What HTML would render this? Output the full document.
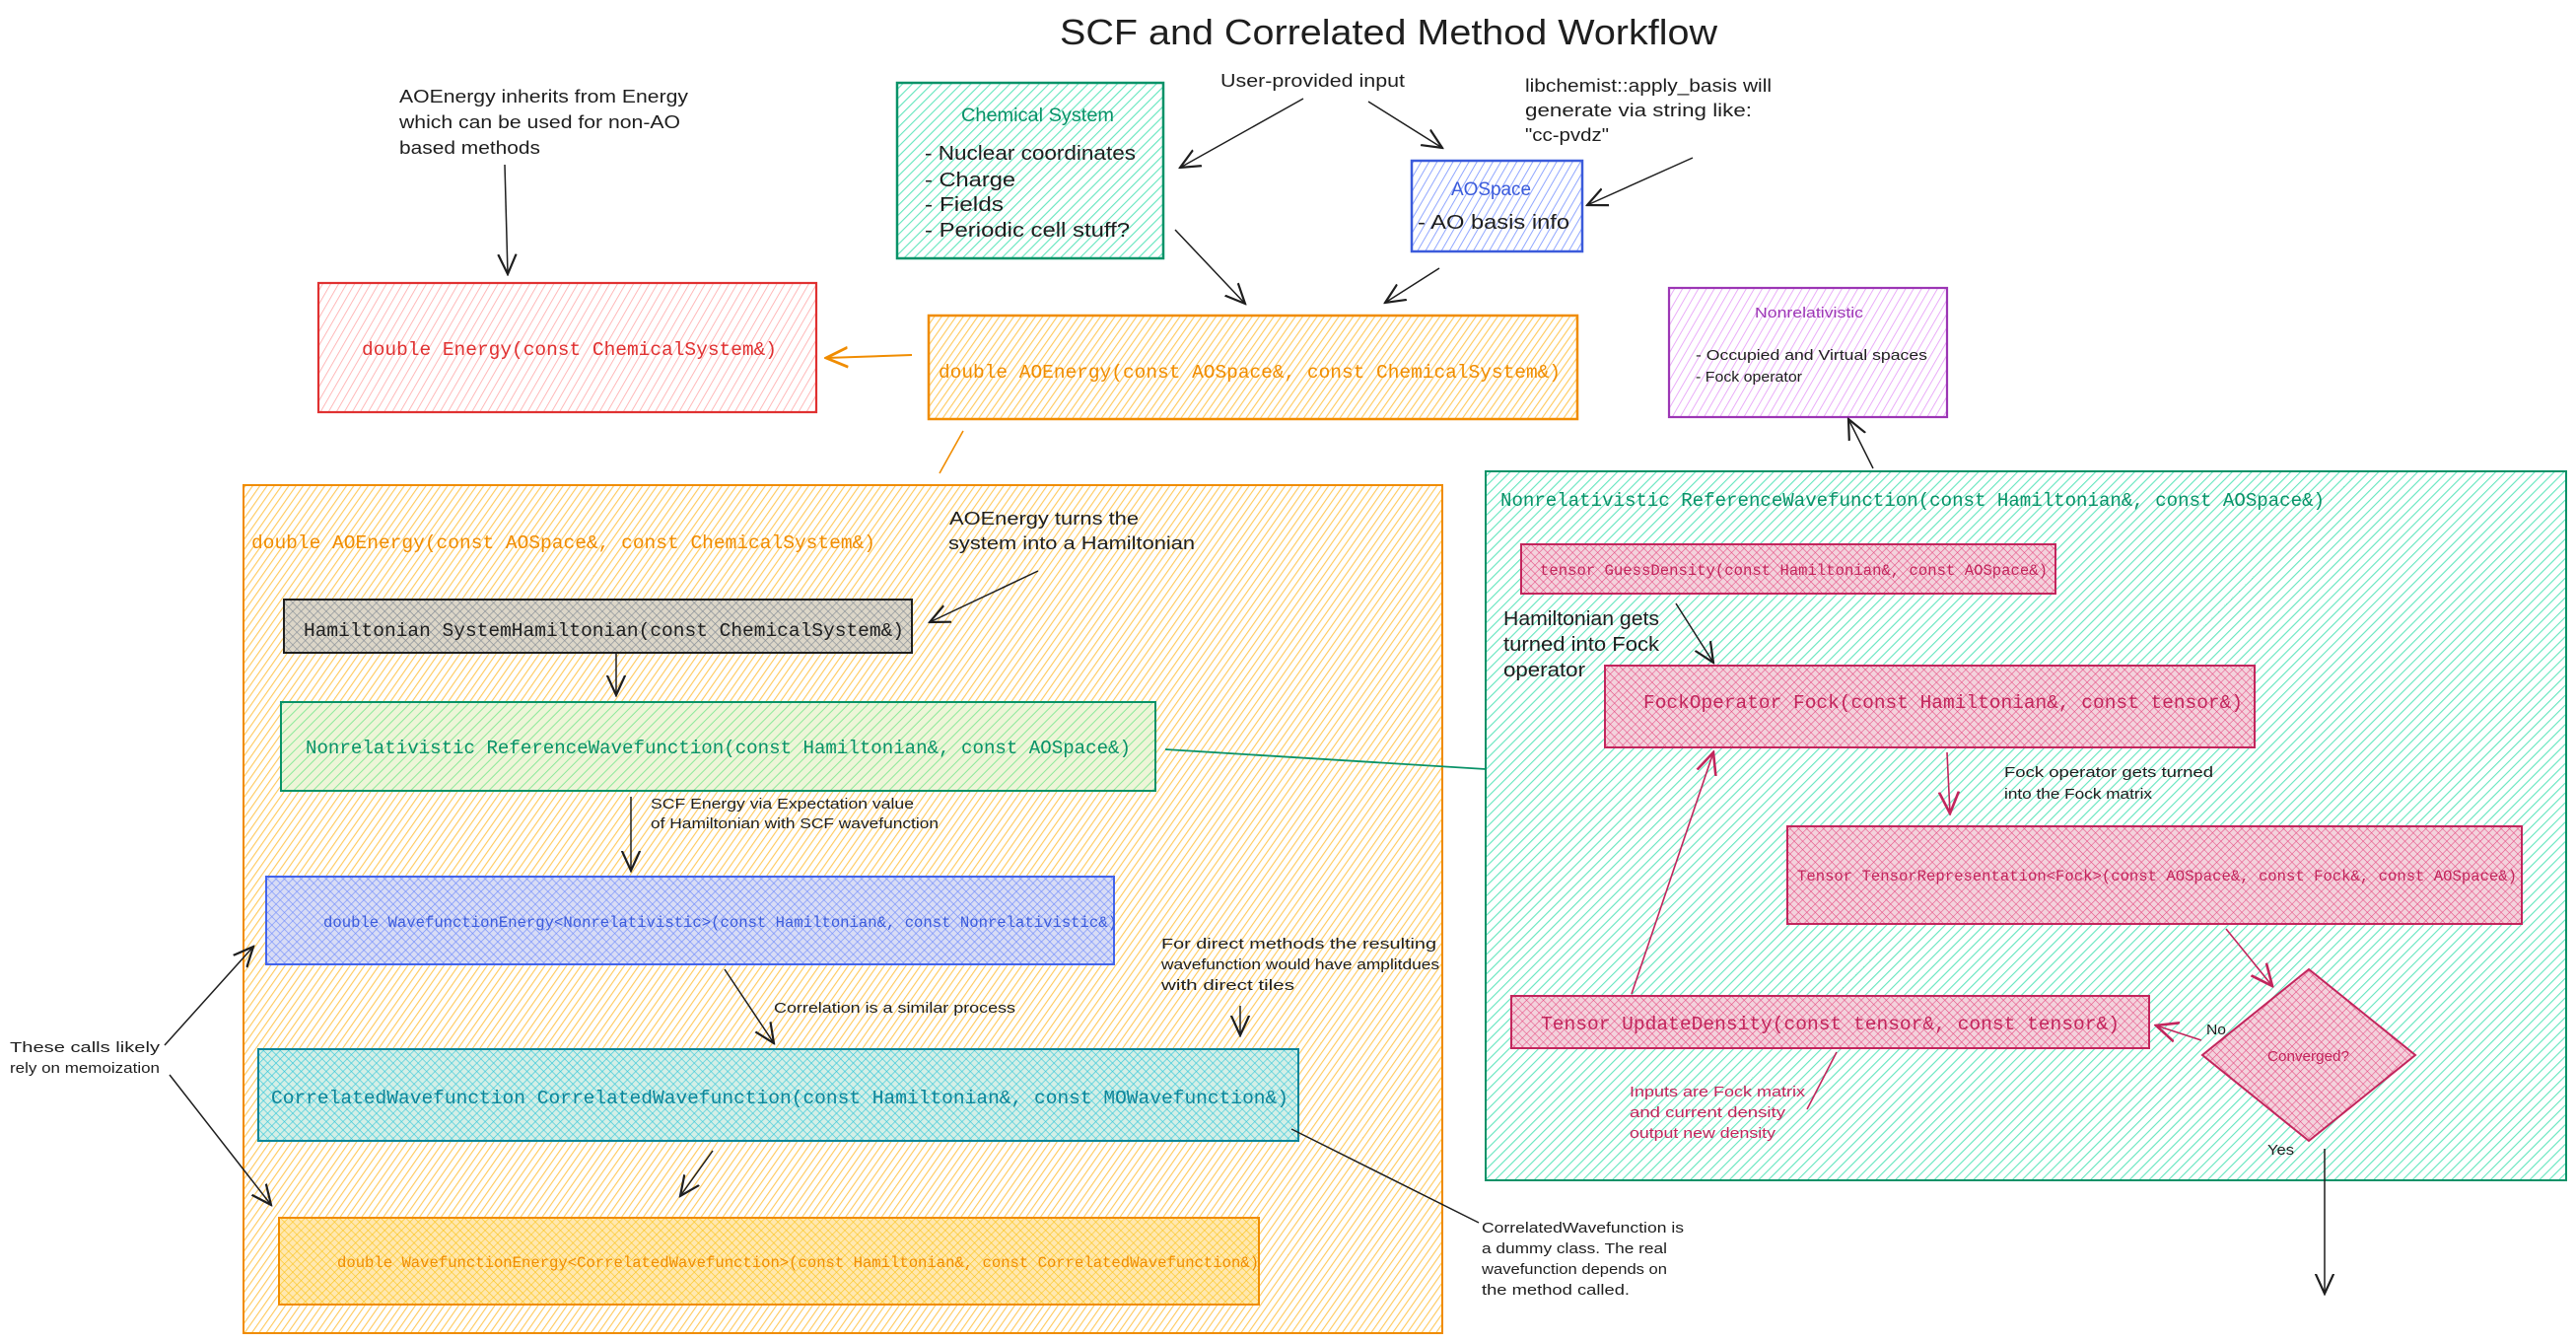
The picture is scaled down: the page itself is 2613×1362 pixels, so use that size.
<!DOCTYPE html>
<html><head><meta charset="utf-8"><style>
html,body{margin:0;padding:0;background:#fff;}
svg{display:block;}
.h{font-family:"Liberation Sans",sans-serif;fill:#1e1e1e;}
.m{font-family:"Liberation Mono",monospace;}
</style></head><body>
<svg width="2613" height="1362" viewBox="0 0 2613 1362" xmlns="http://www.w3.org/2000/svg">
<defs>
<pattern id="pg" width="7" height="7" patternUnits="userSpaceOnUse" patternTransform="rotate(45)"><rect width="7" height="7" fill="#fff"/><line x1="0" y1="0" x2="0" y2="7" stroke="#63e6be" stroke-width="2.2"/></pattern>
<pattern id="pr" width="7" height="7" patternUnits="userSpaceOnUse" patternTransform="rotate(30)"><rect width="7" height="7" fill="#fff"/><line x1="0" y1="0" x2="0" y2="7" stroke="#ffa8a8" stroke-width="1.6"/></pattern>
<pattern id="po" width="6" height="6" patternUnits="userSpaceOnUse" patternTransform="rotate(35)"><rect width="6" height="6" fill="#fff"/><line x1="0" y1="0" x2="0" y2="6" stroke="#ffc95c" stroke-width="2.2"/></pattern>
<pattern id="pb" width="7" height="7" patternUnits="userSpaceOnUse" patternTransform="rotate(30)"><rect width="7" height="7" fill="#fff"/><line x1="0" y1="0" x2="0" y2="7" stroke="#91a7ff" stroke-width="2"/></pattern>
<pattern id="pp" width="7" height="7" patternUnits="userSpaceOnUse" patternTransform="rotate(30)"><rect width="7" height="7" fill="#fff"/><line x1="0" y1="0" x2="0" y2="7" stroke="#e599f7" stroke-width="1.6"/></pattern>
<pattern id="xgray" width="6" height="6" patternUnits="userSpaceOnUse" patternTransform="rotate(45)"><rect width="6" height="6" fill="#dcd6c8"/><line x1="0" y1="0" x2="0" y2="6" stroke="#868e96" stroke-width="1.3"/><line x1="0" y1="0" x2="6" y2="0" stroke="#868e96" stroke-width="1.3"/></pattern>
<pattern id="xgreen" width="7" height="7" patternUnits="userSpaceOnUse" patternTransform="rotate(45)"><rect width="7" height="7" fill="#eef5d8"/><line x1="0" y1="0" x2="0" y2="7" stroke="#8ce99a" stroke-width="2"/></pattern>
<pattern id="xblue" width="6" height="6" patternUnits="userSpaceOnUse" patternTransform="rotate(45)"><rect width="6" height="6" fill="#d8dcf5"/><line x1="0" y1="0" x2="0" y2="6" stroke="#748ffc" stroke-width="1.3"/><line x1="0" y1="0" x2="6" y2="0" stroke="#748ffc" stroke-width="1.3"/></pattern>
<pattern id="xteal" width="6" height="6" patternUnits="userSpaceOnUse" patternTransform="rotate(45)"><rect width="6" height="6" fill="#d4efe6"/><line x1="0" y1="0" x2="0" y2="6" stroke="#3bc9db" stroke-width="1.3"/><line x1="0" y1="0" x2="6" y2="0" stroke="#3bc9db" stroke-width="1.3"/></pattern>
<pattern id="xorange" width="6" height="6" patternUnits="userSpaceOnUse" patternTransform="rotate(45)"><rect width="6" height="6" fill="#ffe8b0"/><line x1="0" y1="0" x2="0" y2="6" stroke="#fcc419" stroke-width="1.2"/><line x1="0" y1="0" x2="6" y2="0" stroke="#fcc419" stroke-width="1.2"/></pattern>
<pattern id="xpink" width="6" height="6" patternUnits="userSpaceOnUse" patternTransform="rotate(45)"><rect width="6" height="6" fill="#f3d2dc"/><line x1="0" y1="0" x2="0" y2="6" stroke="#e64980" stroke-width="1.1"/><line x1="0" y1="0" x2="6" y2="0" stroke="#e64980" stroke-width="1.1"/></pattern>
<marker id="ak" viewBox="0 0 12 12" refX="11" refY="6" markerWidth="22" markerHeight="22" markerUnits="userSpaceOnUse" orient="auto"><path d="M0,1 L11,6 L0,11" fill="none" stroke="#1e1e1e" stroke-width="1.2"/></marker>
<marker id="ao" viewBox="0 0 12 12" refX="11" refY="6" markerWidth="24" markerHeight="24" markerUnits="userSpaceOnUse" orient="auto"><path d="M0,1 L11,6 L0,11" fill="none" stroke="#f08c00" stroke-width="1.4"/></marker>
<marker id="ap" viewBox="0 0 12 12" refX="11" refY="6" markerWidth="24" markerHeight="24" markerUnits="userSpaceOnUse" orient="auto"><path d="M0,1 L11,6 L0,11" fill="none" stroke="#c2255c" stroke-width="1.3"/></marker>
</defs>

<text class="h" x="1075" y="45" font-size="36" textLength="667" lengthAdjust="spacingAndGlyphs">SCF and Correlated Method Workflow</text>

<rect x="910" y="84" width="270" height="178" fill="url(#pg)" stroke="#099268" stroke-width="2.5"/>
<text class="h" x="975" y="123" font-size="19" style="fill:#099268" textLength="155" lengthAdjust="spacingAndGlyphs">Chemical System</text>
<text class="h" x="938" y="162" font-size="20" textLength="214" lengthAdjust="spacingAndGlyphs">- Nuclear coordinates</text>
<text class="h" x="938" y="189" font-size="20" textLength="92" lengthAdjust="spacingAndGlyphs">- Charge</text>
<text class="h" x="938" y="214" font-size="20" textLength="80" lengthAdjust="spacingAndGlyphs">- Fields</text>
<text class="h" x="938" y="240" font-size="20" textLength="208" lengthAdjust="spacingAndGlyphs">- Periodic cell stuff?</text>

<rect x="1432" y="163" width="173" height="92" fill="url(#pb)" stroke="#3b5bdb" stroke-width="2.5"/>
<text class="h" x="1472" y="198" font-size="19" style="fill:#3b5bdb" textLength="81" lengthAdjust="spacingAndGlyphs">AOSpace</text>
<text class="h" x="1438" y="232" font-size="20" textLength="154" lengthAdjust="spacingAndGlyphs">- AO basis info</text>

<rect x="323" y="287" width="505" height="131" fill="url(#pr)" stroke="#e03131" stroke-width="2.2"/>
<text class="m" x="367" y="360" font-size="19.5" fill="#e03131" textLength="421" lengthAdjust="spacingAndGlyphs">double Energy(const ChemicalSystem&amp;)</text>

<rect x="942" y="320" width="658" height="105" fill="url(#po)" stroke="#f08c00" stroke-width="2.5"/>
<text class="m" x="952" y="383" font-size="19.5" fill="#f08c00" textLength="631" lengthAdjust="spacingAndGlyphs">double AOEnergy(const AOSpace&amp;, const ChemicalSystem&amp;)</text>

<rect x="1693" y="292" width="282" height="131" fill="url(#pp)" stroke="#9c36b5" stroke-width="2.2"/>
<text class="h" x="1780" y="322" font-size="15" style="fill:#9c36b5" textLength="110" lengthAdjust="spacingAndGlyphs">Nonrelativistic</text>
<text class="h" x="1720" y="365" font-size="15" textLength="235" lengthAdjust="spacingAndGlyphs">- Occupied and Virtual spaces</text>
<text class="h" x="1720" y="387" font-size="15" textLength="108" lengthAdjust="spacingAndGlyphs">- Fock operator</text>

<text class="h" x="405" y="104" font-size="18" textLength="293" lengthAdjust="spacingAndGlyphs">AOEnergy inherits from Energy</text>
<text class="h" x="405" y="130" font-size="18" textLength="285" lengthAdjust="spacingAndGlyphs">which can be used for non-AO</text>
<text class="h" x="405" y="156" font-size="18" textLength="143" lengthAdjust="spacingAndGlyphs">based methods</text>
<text class="h" x="1238" y="88" font-size="18" textLength="187" lengthAdjust="spacingAndGlyphs">User-provided input</text>
<text class="h" x="1547" y="93" font-size="18" textLength="250" lengthAdjust="spacingAndGlyphs">libchemist::apply_basis will</text>
<text class="h" x="1547" y="118" font-size="18" textLength="230" lengthAdjust="spacingAndGlyphs">generate via string like:</text>
<text class="h" x="1547" y="143" font-size="18" textLength="85" lengthAdjust="spacingAndGlyphs">"cc-pvdz"</text>

<g fill="none" stroke="#1e1e1e" stroke-width="1.5">
<line x1="512" y1="167" x2="515" y2="278" marker-end="url(#ak)"/>
<line x1="1322" y1="100" x2="1197" y2="170" marker-end="url(#ak)"/>
<line x1="1388" y1="103" x2="1463" y2="150" marker-end="url(#ak)"/>
<line x1="1717" y1="160" x2="1610" y2="208" marker-end="url(#ak)"/>
<line x1="1192" y1="233" x2="1263" y2="308" marker-end="url(#ak)"/>
<line x1="1460" y1="272" x2="1405" y2="307" marker-end="url(#ak)"/>
<line x1="1900" y1="475" x2="1875" y2="425" marker-end="url(#ak)"/>
</g>
<line x1="925" y1="360" x2="838" y2="363" stroke="#f08c00" stroke-width="2" marker-end="url(#ao)"/>
<line x1="977" y1="437" x2="953" y2="480" stroke="#f08c00" stroke-width="1.6"/>

<rect x="247" y="492" width="1216" height="860" fill="url(#po)" stroke="#f08c00" stroke-width="2"/>
<text class="m" x="255" y="556" font-size="19.5" fill="#f08c00" textLength="633" lengthAdjust="spacingAndGlyphs">double AOEnergy(const AOSpace&amp;, const ChemicalSystem&amp;)</text>

<rect x="288" y="608" width="637" height="54" fill="url(#xgray)" stroke="#1e1e1e" stroke-width="2"/>
<text class="m" x="308" y="645" font-size="19.5" fill="#1e1e1e" textLength="609" lengthAdjust="spacingAndGlyphs">Hamiltonian SystemHamiltonian(const ChemicalSystem&amp;)</text>

<rect x="285" y="712" width="887" height="90" fill="url(#xgreen)" stroke="#099268" stroke-width="2"/>
<text class="m" x="310" y="764" font-size="19" fill="#099268" textLength="837" lengthAdjust="spacingAndGlyphs">Nonrelativistic ReferenceWavefunction(const Hamiltonian&amp;, const AOSpace&amp;)</text>

<rect x="270" y="889" width="860" height="89" fill="url(#xblue)" stroke="#4263eb" stroke-width="2"/>
<text class="m" x="328" y="940" font-size="15.6" fill="#3b5bdb" textLength="805" lengthAdjust="spacingAndGlyphs">double WavefunctionEnergy&lt;Nonrelativistic&gt;(const Hamiltonian&amp;, const Nonrelativistic&amp;)</text>

<rect x="262" y="1064" width="1055" height="93" fill="url(#xteal)" stroke="#0c8599" stroke-width="2"/>
<text class="m" x="275" y="1119" font-size="19.5" fill="#0c8599" textLength="1032" lengthAdjust="spacingAndGlyphs">CorrelatedWavefunction CorrelatedWavefunction(const Hamiltonian&amp;, const MOWavefunction&amp;)</text>

<rect x="283" y="1235" width="994" height="88" fill="url(#xorange)" stroke="#f08c00" stroke-width="2"/>
<text class="m" x="342" y="1285" font-size="15.6" fill="#f08c00" textLength="935" lengthAdjust="spacingAndGlyphs">double WavefunctionEnergy&lt;CorrelatedWavefunction&gt;(const Hamiltonian&amp;, const CorrelatedWavefunction&amp;)</text>

<text class="h" x="963" y="532" font-size="18" textLength="192" lengthAdjust="spacingAndGlyphs">AOEnergy turns the</text>
<text class="h" x="962" y="557" font-size="18" textLength="250" lengthAdjust="spacingAndGlyphs">system into a Hamiltonian</text>
<text class="h" x="660" y="820" font-size="15" textLength="267" lengthAdjust="spacingAndGlyphs">SCF Energy via Expectation value</text>
<text class="h" x="660" y="840" font-size="15" textLength="292" lengthAdjust="spacingAndGlyphs">of Hamiltonian with SCF wavefunction</text>
<text class="h" x="785" y="1027" font-size="15" textLength="245" lengthAdjust="spacingAndGlyphs">Correlation is a similar process</text>
<text class="h" x="1178" y="962" font-size="15" textLength="279" lengthAdjust="spacingAndGlyphs">For direct methods the resulting</text>
<text class="h" x="1178" y="983" font-size="15" textLength="282" lengthAdjust="spacingAndGlyphs">wavefunction would have amplitdues</text>
<text class="h" x="1178" y="1004" font-size="15" textLength="135" lengthAdjust="spacingAndGlyphs">with direct tiles</text>
<text class="h" x="10" y="1067" font-size="15" textLength="152" lengthAdjust="spacingAndGlyphs">These calls likely</text>
<text class="h" x="10" y="1088" font-size="15" textLength="152" lengthAdjust="spacingAndGlyphs">rely on memoization</text>
<text class="h" x="1503" y="1250" font-size="15" textLength="205" lengthAdjust="spacingAndGlyphs">CorrelatedWavefunction is</text>
<text class="h" x="1503" y="1271" font-size="15" textLength="188" lengthAdjust="spacingAndGlyphs">a dummy class. The real</text>
<text class="h" x="1503" y="1292" font-size="15" textLength="188" lengthAdjust="spacingAndGlyphs">wavefunction depends on</text>
<text class="h" x="1503" y="1313" font-size="15" textLength="150" lengthAdjust="spacingAndGlyphs">the method called.</text>

<g fill="none" stroke="#1e1e1e" stroke-width="1.5">
<line x1="1053" y1="579" x2="943" y2="631" marker-end="url(#ak)"/>
<line x1="625" y1="662" x2="625" y2="705" marker-end="url(#ak)"/>
<line x1="640" y1="808" x2="640" y2="883" marker-end="url(#ak)"/>
<line x1="735" y1="983" x2="785" y2="1058" marker-end="url(#ak)"/>
<line x1="723" y1="1167" x2="690" y2="1213" marker-end="url(#ak)"/>
<line x1="1258" y1="1020" x2="1258" y2="1050" marker-end="url(#ak)"/>
<line x1="167" y1="1060" x2="257" y2="960" marker-end="url(#ak)"/>
<line x1="172" y1="1090" x2="275" y2="1222" marker-end="url(#ak)"/>
<line x1="1310" y1="1145" x2="1500" y2="1240"/>
</g>
<line x1="1182" y1="760" x2="1507" y2="780" stroke="#099268" stroke-width="1.8"/>

<rect x="1507" y="478" width="1096" height="719" fill="url(#pg)" stroke="#099268" stroke-width="2"/>
<text class="m" x="1522" y="513" font-size="19" fill="#099268" textLength="836" lengthAdjust="spacingAndGlyphs">Nonrelativistic ReferenceWavefunction(const Hamiltonian&amp;, const AOSpace&amp;)</text>

<rect x="1543" y="552" width="542" height="50" fill="url(#xpink)" stroke="#c2255c" stroke-width="2"/>
<text class="m" x="1562" y="583" font-size="15.6" fill="#c2255c" textLength="515" lengthAdjust="spacingAndGlyphs">tensor GuessDensity(const Hamiltonian&amp;, const AOSpace&amp;)</text>

<rect x="1628" y="675" width="659" height="83" fill="url(#xpink)" stroke="#c2255c" stroke-width="2"/>
<text class="m" x="1667" y="718" font-size="19.8" fill="#c2255c" textLength="608" lengthAdjust="spacingAndGlyphs">FockOperator Fock(const Hamiltonian&amp;, const tensor&amp;)</text>

<rect x="1813" y="838" width="745" height="99" fill="url(#xpink)" stroke="#c2255c" stroke-width="2"/>
<text class="m" x="1823" y="893" font-size="15.6" fill="#c2255c" textLength="730" lengthAdjust="spacingAndGlyphs">Tensor TensorRepresentation&lt;Fock&gt;(const AOSpace&amp;, const Fock&amp;, const AOSpace&amp;)</text>

<rect x="1533" y="1010" width="647" height="53" fill="url(#xpink)" stroke="#c2255c" stroke-width="2"/>
<text class="m" x="1563" y="1044" font-size="19.5" fill="#c2255c" textLength="587" lengthAdjust="spacingAndGlyphs">Tensor UpdateDensity(const tensor&amp;, const tensor&amp;)</text>

<polygon points="2342,983 2450,1070 2342,1157 2234,1070" fill="url(#xpink)" stroke="#c2255c" stroke-width="2"/>
<text class="h" x="2300" y="1076" font-size="15" style="fill:#c2255c" textLength="83" lengthAdjust="spacingAndGlyphs">Converged?</text>

<text class="h" x="1525" y="634" font-size="20" textLength="158" lengthAdjust="spacingAndGlyphs">Hamiltonian gets</text>
<text class="h" x="1525" y="660" font-size="20" textLength="158" lengthAdjust="spacingAndGlyphs">turned into Fock</text>
<text class="h" x="1525" y="686" font-size="20" textLength="83" lengthAdjust="spacingAndGlyphs">operator</text>
<text class="h" x="2033" y="788" font-size="15" textLength="212" lengthAdjust="spacingAndGlyphs">Fock operator gets turned</text>
<text class="h" x="2033" y="810" font-size="15" textLength="150" lengthAdjust="spacingAndGlyphs">into the Fock matrix</text>
<text class="h" x="2238" y="1049" font-size="15" textLength="20" lengthAdjust="spacingAndGlyphs">No</text>
<text class="h" x="2300" y="1171" font-size="15" textLength="27" lengthAdjust="spacingAndGlyphs">Yes</text>
<text class="h" x="1653" y="1112" font-size="15" style="fill:#c2255c" textLength="178" lengthAdjust="spacingAndGlyphs">Inputs are Fock matrix</text>
<text class="h" x="1653" y="1133" font-size="15" style="fill:#c2255c" textLength="158" lengthAdjust="spacingAndGlyphs">and current density</text>
<text class="h" x="1653" y="1154" font-size="15" style="fill:#c2255c" textLength="148" lengthAdjust="spacingAndGlyphs">output new density</text>

<g fill="none" stroke="#1e1e1e" stroke-width="1.5">
<line x1="1700" y1="612" x2="1738" y2="672" marker-end="url(#ak)"/>
<line x1="2358" y1="1165" x2="2358" y2="1312" marker-end="url(#ak)"/>
</g>
<g fill="none" stroke="#c2255c" stroke-width="1.6">
<line x1="1975" y1="763" x2="1978" y2="825" marker-end="url(#ap)"/>
<line x1="2258" y1="942" x2="2305" y2="1000" marker-end="url(#ap)"/>
<line x1="2233" y1="1055" x2="2187" y2="1040" marker-end="url(#ap)"/>
<line x1="1655" y1="1008" x2="1738" y2="763" marker-end="url(#ap)"/>
<line x1="1863" y1="1067" x2="1833" y2="1125"/>
</g>
</svg>
</body></html>
